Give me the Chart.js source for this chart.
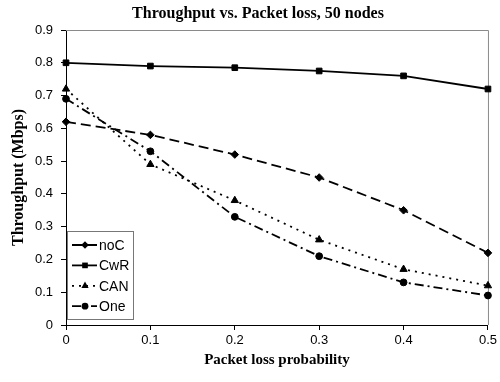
<!DOCTYPE html>
<html>
<head>
<meta charset="utf-8">
<script src="https://cdn.jsdelivr.net/npm/chart.js"></script>
<style>
  html, body { margin: 0; padding: 0; background: #fff; }
  #wrap { width: 500px; height: 382px; }
</style>
</head>
<body>
<div id="wrap"><canvas id="tputChart"></canvas></div>
<script>
"use strict";
const lossProb = [0, 0.1, 0.2, 0.3, 0.4, 0.5];
const noC = [0.62, 0.58, 0.52, 0.45, 0.35, 0.22];
const cwR = [0.80, 0.79, 0.785, 0.775, 0.76, 0.72];
const can = [0.72, 0.49, 0.38, 0.26, 0.17, 0.12];
const one = [0.69, 0.53, 0.33, 0.21, 0.13, 0.09];
const xTicks = [0, 0.1, 0.2, 0.3, 0.4, 0.5];
const yTicks = [0, 0.1, 0.2, 0.3, 0.4, 0.5, 0.6, 0.7, 0.8, 0.9];

const serif = "'Liberation Serif', 'Times New Roman', serif";
const sans = "'Liberation Sans', Arial, sans-serif";

function pts(ys) {
    return ys.map((y, i) => ({ x: lossProb[i], y: y }));
}

function series(label, ys, dash, style, radius) {
    return {
        label: label,
        data: pts(ys),
        borderColor: "#000",
        backgroundColor: "#000",
        borderWidth: 1.8,
        borderDash: dash,
        pointStyle: style,
        pointRadius: radius,
        pointBorderWidth: 1,
        pointBorderColor: "#000",
        pointBackgroundColor: "#000",
        tension: 0,
        clip: false
    };
}

// draws one marker like the ones on the lines (used for the legend)
function marker(ctx, style, r, x, y) {
    ctx.beginPath();
    if (style === "rect") {
        const s = Math.SQRT1_2 * r;
        ctx.rect(x - s, y - s, 2 * s, 2 * s);
    } else if (style === "rectRot") {
        ctx.moveTo(x, y - r); ctx.lineTo(x + r, y); ctx.lineTo(x, y + r); ctx.lineTo(x - r, y);
        ctx.closePath();
    } else if (style === "triangle") {
        const h = r * 1.5;
        ctx.moveTo(x, y - r);
        ctx.lineTo(x + r * 0.866, y + r * 0.5);
        ctx.lineTo(x - r * 0.866, y + r * 0.5);
        ctx.closePath();
    } else {
        ctx.arc(x, y, r, 0, Math.PI * 2);
    }
    ctx.fill();
}

const framePlugin = {
    id: "frame",
    beforeDatasetsDraw(chart) {
        const a = chart.chartArea;
        const ctx = chart.ctx;
        ctx.save();
        ctx.strokeStyle = "#8a8a8a";
        ctx.lineWidth = 1;
        ctx.beginPath();
        ctx.moveTo(a.left, a.top + 0.5);
        ctx.lineTo(a.right + 0.5, a.top + 0.5);
        ctx.lineTo(a.right + 0.5, a.bottom);
        ctx.stroke();
        ctx.restore();
    }
};

const titlePlugin = {
    id: "topTitle",
    afterDraw(chart) {
        const ctx = chart.ctx;
        ctx.save();
        ctx.fillStyle = "#000";
        ctx.font = "bold 16px " + serif;
        ctx.textAlign = "center";
        ctx.textBaseline = "middle";
        ctx.fillText("Throughput vs. Packet loss, 50 nodes", chart.width / 2 + 8, 14);
        ctx.restore();
    }
};

const legendPlugin = {
    id: "boxLegend",
    afterDatasetsDraw(chart) {
        const a = chart.chartArea;
        const ctx = chart.ctx;
        const bx = a.left + 1, by = a.bottom - 94, bw = 66, bh = 88;
        ctx.save();
        ctx.fillStyle = "#fff";
        ctx.fillRect(bx, by, bw, bh);
        ctx.strokeStyle = "#777";
        ctx.lineWidth = 1;
        ctx.strokeRect(bx + 0.5, by + 0.5, bw, bh);
        chart.data.datasets.forEach((ds, i) => {
            const y = by + 14 + i * 20.4;
            ctx.strokeStyle = "#000";
            ctx.lineWidth = ds.borderWidth;
            ctx.setLineDash(ds.borderDash);
            ctx.beginPath();
            ctx.moveTo(bx + 5, y);
            ctx.lineTo(bx + 30, y);
            ctx.stroke();
            ctx.setLineDash([]);
            ctx.fillStyle = "#000";
            marker(ctx, ds.pointStyle, ds.pointRadius, bx + 18, y);
            ctx.font = "14px " + sans;
            ctx.textAlign = "left";
            ctx.textBaseline = "middle";
            ctx.fillText(ds.label, bx + 32, y + 1);
        });
        ctx.restore();
    }
};

const config = {
    type: "line",
    data: {
        datasets: [
            series("noC", noC, [10, 5], "rectRot", 3.8),
            series("CwR", cwR, [], "rect", 4),
            series("CAN", can, [2, 5], "triangle", 4.2),
            series("One", one, [9, 4, 2, 4], "circle", 3.4)
        ]
    },
    options: {
        responsive: true,
        maintainAspectRatio: false,
        animation: false,
        layout: { padding: { left: 9, right: 11, top: 30, bottom: 0 } },
        plugins: {
            legend: { display: false },
            title: { display: false },
            tooltip: { enabled: false }
        },
        scales: {
            x: {
                type: "linear",
                min: 0,
                max: 0.5,
                afterBuildTicks: s => { s.ticks = xTicks.map(v => ({ value: v })); },
                afterFit: s => { s.height = 57; },
                grid: { drawOnChartArea: false, drawTicks: true, tickLength: 5, color: "#000" },
                border: { display: true, color: "#000", width: 1 },
                ticks: {
                    color: "#000",
                    padding: 3,
                    maxRotation: 0,
                    font: { family: sans, size: 13 },
                    callback: v => String(Math.round(v * 10) / 10)
                },
                title: {
                    display: true,
                    text: "Packet loss probability",
                    color: "#000",
                    font: { family: serif, size: 15, weight: "bold" },
                    padding: { top: 0, bottom: 13 }
                }
            },
            y: {
                min: 0,
                max: 0.9,
                afterBuildTicks: s => { s.ticks = yTicks.map(v => ({ value: v })); },
                afterFit: s => { s.width = 57; },
                grid: { drawOnChartArea: false, drawTicks: true, tickLength: 5, color: "#000" },
                border: { display: true, color: "#000", width: 1 },
                ticks: {
                    color: "#000",
                    padding: 8,
                    font: { family: sans, size: 13 },
                    callback: v => String(Math.round(v * 10) / 10)
                },
                title: {
                    display: true,
                    text: "Throughput (Mbps)",
                    color: "#000",
                    font: { family: serif, size: 16, weight: "bold" },
                    padding: { top: 0, bottom: 0 }
                }
            }
        }
    },
    plugins: [framePlugin, legendPlugin, titlePlugin]
};

const tputChart = new Chart(document.getElementById("tputChart"), config);
</script>
</body>
</html>
